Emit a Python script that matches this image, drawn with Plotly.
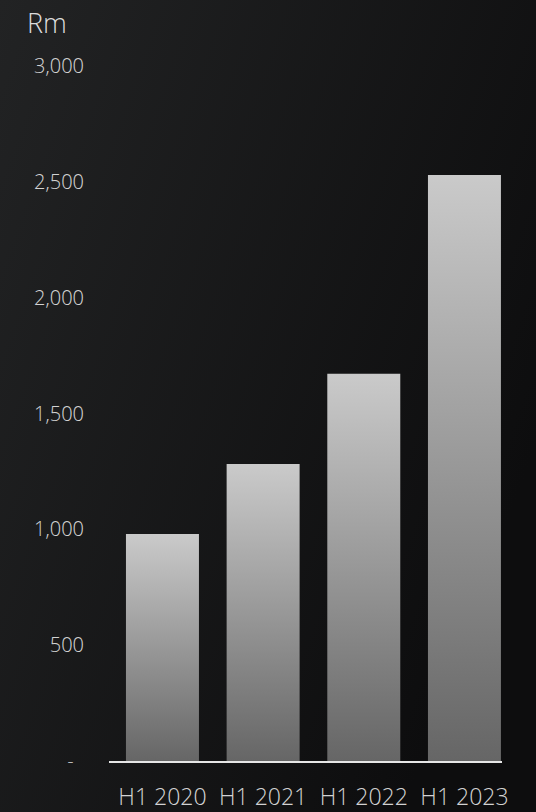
import base64
import plotly.graph_objects as go

categories = ["H1 2020", "H1 2021", "H1 2022", "H1 2023"]
values = [980, 1282, 1672, 2530]
y_tickvals = [0, 500, 1000, 1500, 2000, 2500, 3000]
y_ticktext = ["-\u00a0\u00a0", "500", "1,000", "1,500", "2,000", "2,500", "3,000"]
unit_label = "Rm"

W, H = 536, 812
ML, MR, MT, MB = 109, 34, 66, 51
BAR_W = 0.725
FONT = "Open Sans Light, Open Sans"
TXT = "#d2d2d2"

fig = go.Figure()
for i, (cat, v) in enumerate(zip(categories, values)):
    x0, x1 = i - BAR_W / 2, i + BAR_W / 2
    fig.add_trace(go.Scatter(
        x=[x0, x1, x1, x0, x0], y=[0, 0, v, v, 0],
        mode="lines", fill="toself", line=dict(width=0),
        fillgradient=dict(type="vertical",
                          colorscale=[[0, "#666666"], [1, "#cacaca"]]),
        name=cat, hoverinfo="text", text=f"{cat}: {v:,}", showlegend=False,
    ))

svg = ('<svg xmlns="http://www.w3.org/2000/svg" width="536" height="812" '
       'preserveAspectRatio="none" viewBox="0 0 536 812">'
       '<defs><linearGradient id="g" x1="0" y1="0" x2="1" y2="0.55">'
       '<stop offset="0" stop-color="#222324"/>'
       '<stop offset="1" stop-color="#0d0d0e"/>'
       '</linearGradient></defs>'
       '<rect width="536" height="812" fill="url(#g)"/></svg>')
src = "data:image/svg+xml;base64," + base64.b64encode(svg.encode()).decode()
pw, ph = W - ML - MR, H - MT - MB
fig.add_layout_image(dict(
    source=src, xref="paper", yref="paper",
    x=-ML / pw, y=1 + MT / ph, sizex=W / pw, sizey=H / ph,
    xanchor="left", yanchor="top", sizing="stretch", layer="below",
))

fig.add_annotation(
    text=unit_label, xref="paper", yref="paper",
    x=(25 - ML) / pw, y=1 + (MT - 22) / ph, xanchor="left", yanchor="middle",
    showarrow=False, font=dict(family=FONT, size=27, color="#dcdcdc", weight=300),
)

fig.update_layout(
    width=W, height=H, autosize=False,
    margin=dict(l=ML, r=MR, t=MT, b=MB, pad=0, autoexpand=False),
    paper_bgcolor="#161718", plot_bgcolor="rgba(0,0,0,0)",
    font=dict(family=FONT, color=TXT, weight=300),
    showlegend=False,
    xaxis=dict(
        range=[-0.531, 3.373], tickmode="array",
        tickvals=list(range(len(categories))), ticktext=categories,
        showgrid=False, zeroline=False, showline=True,
        linecolor="#e6e6e6", linewidth=2, ticks="",
        tickfont=dict(size=23, color=TXT, family=FONT, weight=300),
        ticklabelstandoff=14,
    ),
    yaxis=dict(
        range=[0, 3000], tickmode="array",
        tickvals=y_tickvals, ticktext=y_ticktext,
        showgrid=False, zeroline=False, showline=False, ticks="",
        tickfont=dict(size=20, color=TXT, family=FONT, weight=300),
        ticklabelstandoff=24,
    ),
)

fig.write_html(
    "out.html",
    config={"responsive": False, "displayModeBar": False},
    post_script="document.body.style.margin='0';"
                "document.body.style.overflow='hidden';"
                "document.body.style.background='#111';",
)
